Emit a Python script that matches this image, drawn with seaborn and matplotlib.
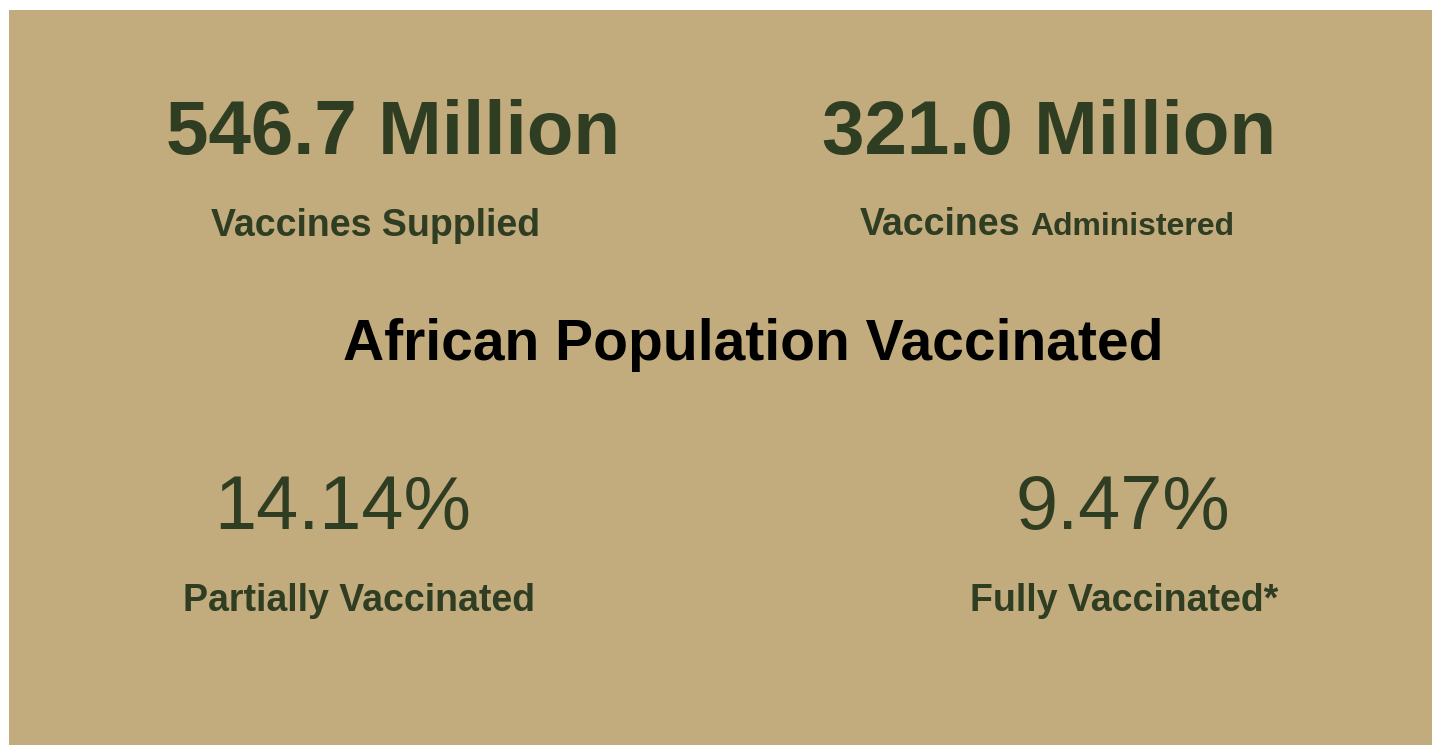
"""
KPI card: African vaccination summary
"""

import matplotlib.pyplot as plt
import seaborn as sns

W, H = 1435, 745

# Data
headline_values = ["546.7 Million", "321.0 Million"]
headline_labels = ["Vaccines Supplied", "Vaccines Administered"]
title = "African Population Vaccinated"
pct_values = [14.14, 9.47]
pct_labels = ["Partially Vaccinated", "Fully Vaccinated*"]

# Styling
sns.set_theme(style="white")
plt.rcParams["font.family"] = ["Liberation Sans", "DejaVu Sans"]
BG = "#C2AB7C"
INK = "#2F3D23"


def px(x, y):
    # pixel position (top-left origin) -> figure fraction
    return x / W, 1 - y / H


fig = plt.figure(figsize=(W / 100, H / 100), dpi=100, facecolor="white")
ax = fig.add_axes([9 / W, 0, (1432 - 9) / W, (H - 10) / H])
ax.set_facecolor(BG)
ax.set_xticks([])
ax.set_yticks([])
for s in ax.spines.values():
    s.set_visible(False)

# big headline numbers
for val, cx in zip(headline_values, [393, 1049]):
    fig.text(*px(cx, 154), val, ha="center", va="baseline",
             fontsize=55, fontweight="bold", color=INK)

# first label
fig.text(*px(376, 236), headline_labels[0], ha="center", va="baseline",
         fontsize=27, fontweight="bold", color=INK)

# second label: first word bigger than the rest
first, rest = headline_labels[1].split(" ", 1)
fig.text(*px(860, 235), first, ha="left", va="baseline",
         fontsize=27, fontweight="bold", color=INK)
fig.text(*px(1030, 235), rest, ha="left", va="baseline",
         fontsize=23, fontweight="bold", color=INK)

# section title
fig.text(*px(753, 360), title, ha="center", va="baseline",
         fontsize=41, fontweight="bold", color="black")

# percentages
for v, lab, cx, lx in zip(pct_values, pct_labels, [343, 1123], [359, 1124]):
    fig.text(*px(cx, 529), f"{v:.2f}%", ha="center", va="baseline",
             fontsize=54.5, color=INK)
    fig.text(*px(lx, 611), lab, ha="center", va="baseline",
             fontsize=27, fontweight="bold", color=INK)

fig.savefig("out.png", dpi=100, facecolor="white")
plt.close()
